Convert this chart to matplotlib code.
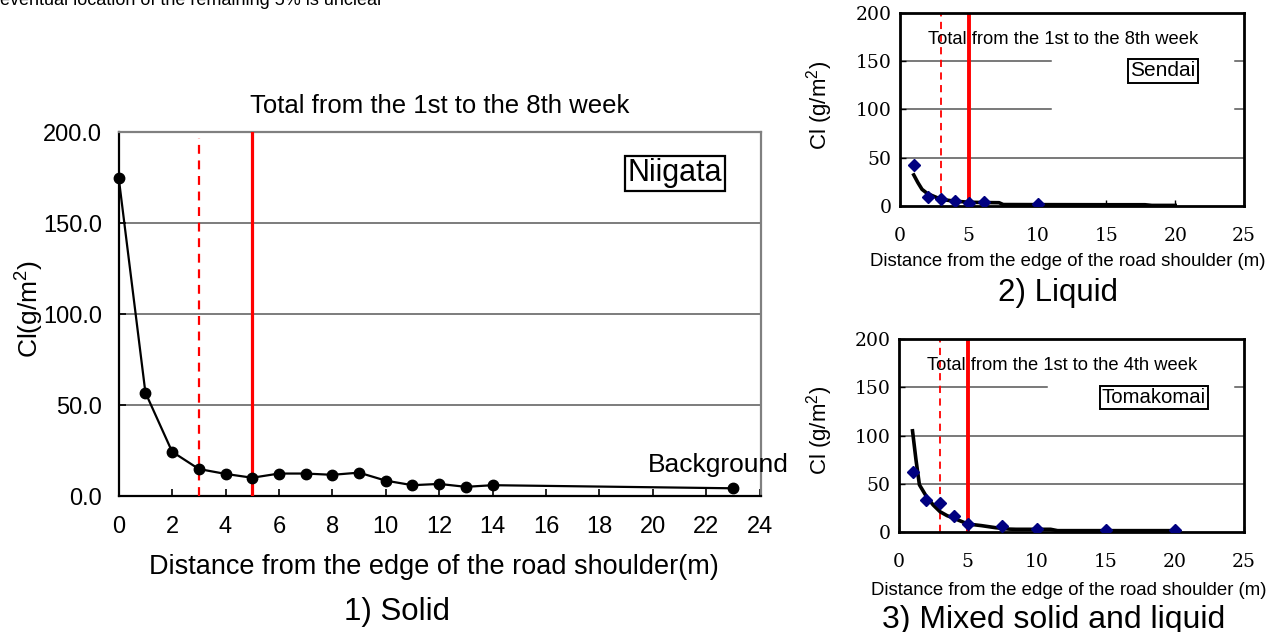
import numpy as np
import matplotlib
matplotlib.use("Agg")
import matplotlib.pyplot as plt

plt.rcParams['font.family'] = ['Liberation Sans', 'DejaVu Sans']
plt.rcParams['mathtext.fontset'] = 'custom'
plt.rcParams['mathtext.rm'] = 'Liberation Sans'
plt.rcParams['mathtext.it'] = 'Liberation Sans:italic'

# 1) Solid - Niigata
solid_x = [0, 1, 2, 3, 4, 5, 6, 7, 8, 9, 10, 11, 12, 13, 14, 23]
solid_y = [175, 57, 24.5, 15, 12.3, 10.2, 12.5, 12.5, 11.8, 13, 8.6, 6.1, 6.8, 5.2, 6.1, 4.4]

# 2) Liquid - Sendai
liquid_x = [1, 2, 3, 4, 5, 6.1, 10]
liquid_y = [42, 8.7, 6.6, 4.9, 3.1, 3.5, 1.4]
liquid_fit_x = [1.0, 1.3, 1.6, 2.0, 2.5, 3.0, 4.0, 5.0, 6.0, 7.2, 7.5, 10, 15, 17.8, 18.3, 20]
liquid_fit_y = [32, 24, 17, 12.5, 9.5, 6.5, 4.7, 3.6, 3.3, 3.1, 1.2, 1.1, 1.0, 1.0, 0.3, 0.3]

# 3) Mixed - Tomakomai
mixed_x = [1, 2, 3, 4, 5, 7.5, 10, 15, 20]
mixed_y = [62, 33, 30, 17, 8.7, 6.6, 3.5, 2.1, 1.7]
mixed_fit_x = [1.0, 1.25, 1.5, 2.0, 2.5, 3.0, 3.5, 4.0, 5.0, 6.0, 7.0, 8.0, 8.5, 11.0, 11.5, 20.0]
mixed_fit_y = [105, 75, 49, 37, 28, 21, 17, 14.2, 8.3, 6.6, 4.5, 3.0, 2.8, 2.8, 1.4, 1.4]

lim_dashed = 3
lim_solid = 5

W, H = 1278, 632
fig = plt.figure(figsize=(W / 100, H / 100), dpi=100)


def fx(px):
    return px / W


def fy(py):
    return 1 - py / H


# line of body text above the figure, mostly cut off by the top edge
fig.text(fx(383), fy(5), "eventual location of the remaining 5% is unclear",
         ha='right', va='baseline', fontsize=13)

# ---------- main chart ----------
ax = fig.add_axes([fx(118.7), fy(496.3), fx(761 - 118.7), (496.3 - 132.3) / H])
ax.plot(solid_x, solid_y, color='black', lw=1.6, marker='o', ms=7.5, zorder=4, clip_on=False)
ax.axvline(lim_dashed, color='red', lw=1.6, ls=(0, (4, 3)), ymax=0.985, zorder=3)
ax.axvline(lim_solid, color='red', lw=2.3, zorder=3)
ax.set_xlim(0, 24.05)
ax.set_ylim(0, 200)
ax.set_xticks(range(0, 25, 2))
ax.set_yticks([0, 50, 100, 150, 200])
ax.set_yticklabels(['%.1f' % v for v in [0, 50, 100, 150, 200]])
for v in [50, 100, 150]:
    ax.axhline(v, color='#666666', lw=1.2, zorder=1)
ax.tick_params(axis='both', direction='in', labelsize=17, length=5, width=1.2)
ax.tick_params(axis='x', pad=14)
ax.tick_params(axis='y', pad=12)
ax.spines['left'].set_color('black')
ax.spines['bottom'].set_color('black')
ax.spines['left'].set_linewidth(1.6)
ax.spines['bottom'].set_linewidth(1.6)
ax.spines['top'].set_color('#808080')
ax.spines['right'].set_color('#808080')
ax.spines['top'].set_linewidth(1.6)
ax.spines['right'].set_linewidth(1.6)

fig.text(fx(440), fy(112.7), "Total from the 1st to the 8th week",
         ha='center', va='baseline', fontsize=18.5)
fig.text(fx(675), fy(173.5), "Niigata", ha='center', va='center', fontsize=22,
         bbox=dict(boxstyle='square,pad=0.08', fc='white', ec='black', lw=1.6))
fig.text(fx(648), fy(471.7), "Background", ha='left', va='baseline', fontsize=19)
fig.text(fx(434), fy(574), "Distance from the edge of the road shoulder(m)",
         ha='center', va='baseline', fontsize=19.5)
fig.text(fx(397), fy(620), "1) Solid", ha='center', va='baseline', fontsize=22.5)
fig.text(fx(30), fy(309), "Cl(g/m$^2$)", ha='center', va='center',
         rotation=90, fontsize=19)


# ---------- small charts ----------
def small_chart(left, top, bottom, xs, ys, fx_, fy_, grid_cut):
    a = fig.add_axes([fx(left), fy(bottom), fx(1244 - left), (bottom - top) / H])
    a.set_xlim(0, 25)
    a.set_ylim(0, 200)
    for v in [50, 100, 150]:
        if v in grid_cut:
            a.axhline(v, xmin=0, xmax=grid_cut[v], color='#555555', lw=1.1, zorder=1)
            a.axhline(v, xmin=0.974, xmax=1, color='#555555', lw=1.1, zorder=1)
        else:
            a.axhline(v, color='#555555', lw=1.1, zorder=1)
    a.plot(fx_, fy_, color='black', lw=2.6, zorder=3)
    a.plot(xs, ys, ls='none', marker='D', ms=6.5, color='#000080', zorder=4)
    a.axvline(lim_dashed, color='red', lw=1.3, ls=(0, (4, 3)), zorder=2)
    a.axvline(lim_solid, color='red', lw=2.8, zorder=2)
    a.set_xticks([0, 5, 10, 15, 20, 25])
    a.set_yticks([0, 50, 100, 150, 200])
    a.tick_params(axis='both', direction='in', length=4, width=1, labelsize=13.5)
    a.tick_params(axis='x', pad=15)
    a.tick_params(axis='y', pad=6)
    for lab in a.get_xticklabels() + a.get_yticklabels():
        lab.set_fontfamily('DejaVu Serif')
    for s in a.spines.values():
        s.set_linewidth(2)
        s.set_color('black')
    return a


small_chart(900, 13.3, 205.7, liquid_x, liquid_y, liquid_fit_x, liquid_fit_y,
            {100: 0.44, 150: 0.44})
fig.text(fx(1063), fy(44), "Total from the 1st to the 8th week",
         ha='center', va='baseline', fontsize=13.2)
fig.text(fx(1163), fy(71), "Sendai", ha='center', va='center', fontsize=15,
         bbox=dict(boxstyle='square,pad=0.1', fc='white', ec='black', lw=1.4))
fig.text(fx(1068), fy(266), "Distance from the edge of the road shoulder (m)",
         ha='center', va='baseline', fontsize=13.4)
fig.text(fx(1058), fy(300.7), "2) Liquid", ha='center', va='baseline', fontsize=22.5)
fig.text(fx(820), fy(105), "Cl (g/m$^2$)", ha='center', va='center',
         rotation=90, fontsize=16)

small_chart(898.7, 339.3, 532, mixed_x, mixed_y, mixed_fit_x, mixed_fit_y,
            {150: 0.43})
fig.text(fx(1061.7), fy(370), "Total from the 1st to the 4th week",
         ha='center', va='baseline', fontsize=13.2)
fig.text(fx(1154), fy(397.5), "Tomakomai", ha='center', va='center', fontsize=14.6,
         bbox=dict(boxstyle='square,pad=0.1', fc='white', ec='black', lw=1.4))
fig.text(fx(1068.7), fy(595), "Distance from the edge of the road shoulder (m)",
         ha='center', va='baseline', fontsize=13.4)
fig.text(fx(1054), fy(628), "3) Mixed solid and liquid", ha='center', va='baseline',
         fontsize=23)
fig.text(fx(820), fy(430), "Cl (g/m$^2$)", ha='center', va='center',
         rotation=90, fontsize=16)

fig.savefig("out.png", dpi=100)
